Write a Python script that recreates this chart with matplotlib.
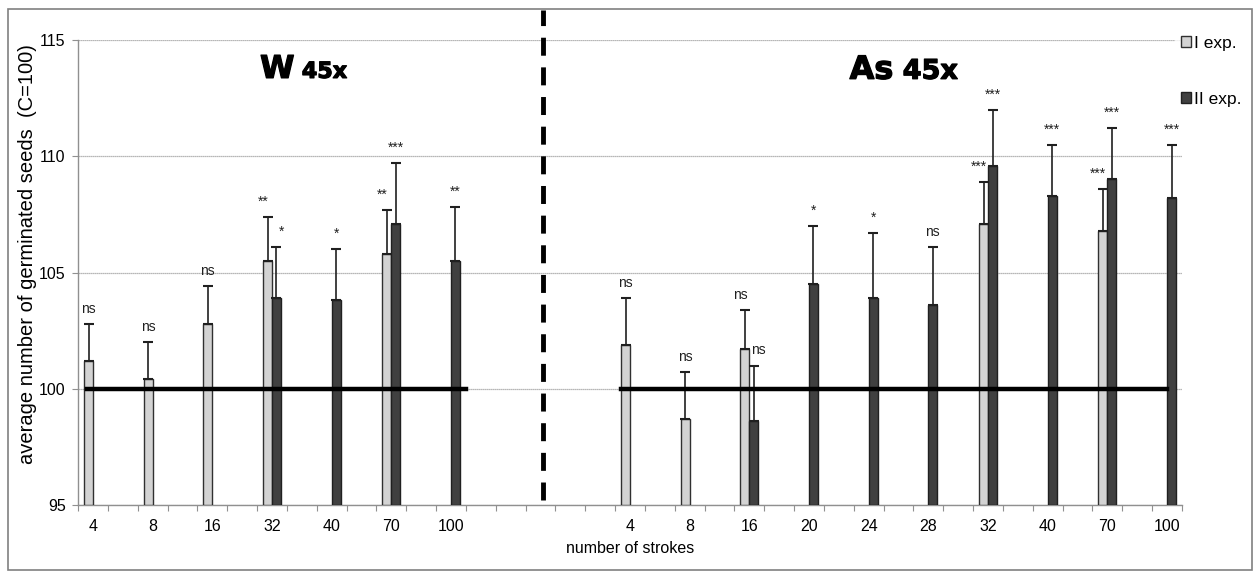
import numpy as np
import matplotlib
matplotlib.use("Agg")
import matplotlib.pyplot as plt
from matplotlib.patches import Rectangle
import matplotlib.patheffects as pe

plt.rcParams['font.family'] = ['Liberation Sans', 'DejaVu Sans']

categories = ['4', '8', '16', '32', '40', '70', '100', '', '',
              '4', '8', '16', '20', '24', '28', '32', '40', '70', '100']
nan = np.nan
exp1 = [101.2, 100.4, 102.8, 105.5, nan, 105.8, nan, nan, nan,
        101.9, 98.7, 101.7, nan, nan, nan, 107.1, nan, 106.8, nan]
exp1_err = [1.6, 1.6, 1.6, 1.9, nan, 1.9, nan, nan, nan,
            2.0, 2.0, 1.7, nan, nan, nan, 1.8, nan, 1.8, nan]
exp2 = [nan, nan, nan, 103.9, 103.8, 107.1, 105.5, nan, nan,
        nan, nan, 98.6, 104.5, 103.9, 103.6, 109.6, 108.3, 109.0, 108.2]
exp2_err = [nan, nan, nan, 2.2, 2.2, 2.6, 2.3, nan, nan,
            nan, nan, 2.4, 2.5, 2.8, 2.5, 2.4, 2.2, 2.2, 2.3]
sig1 = ['ns', 'ns', 'ns', '**', '', '**', '', '', '',
        'ns', 'ns', 'ns', '', '', '', '***', '', '***', '']
sig2 = ['', '', '', '*', '*', '***', '**', '', '',
        '', '', 'ns', '*', '*', 'ns', '***', '***', '***', '***']
panel_titles = [('W', '45x'), ('As', '45x')]
series_names = ['I exp.', 'II exp.']
control_value = 100

fig = plt.figure(figsize=(12.55, 5.72), dpi=100)
ax = fig.add_axes([0.0622, 0.1171, 0.8796, 0.8130])

x = np.arange(len(categories))
w = 0.15
light = '#d3d3d3'
dark = '#404040'

e1 = np.array(exp1, dtype=float)
e2 = np.array(exp2, dtype=float)
r1 = np.array(exp1_err, dtype=float)
r2 = np.array(exp2_err, dtype=float)

ax.bar(x - w / 2, e1 - 95, bottom=95, width=w, color=light, edgecolor='#303030',
       linewidth=1.0, label=series_names[0], zorder=3)
ax.bar(x + w / 2, e2 - 95, bottom=95, width=w, color=dark, edgecolor='#202020',
       linewidth=1.0, label=series_names[1], zorder=3)

m1 = ~np.isnan(e1)
m2 = ~np.isnan(e2)
ax.errorbar(x[m1] - w / 2, e1[m1], yerr=[np.zeros(m1.sum()), r1[m1]], fmt='none',
            ecolor='#202020', elinewidth=1.2, capsize=3.5, capthick=1.5, zorder=4)
ax.errorbar(x[m2] + w / 2, e2[m2], yerr=[np.zeros(m2.sum()), r2[m2]], fmt='none',
            ecolor='#202020', elinewidth=1.2, capsize=3.5, capthick=1.5, zorder=4)

for i in range(len(categories)):
    if sig1[i]:
        dx = -0.08 if not np.isnan(e2[i]) else 0
        ax.text(x[i] - w / 2 + dx, e1[i] + r1[i] + 0.35, sig1[i], ha='center',
                va='bottom', fontsize=10, color='#202020', zorder=5)
    if sig2[i]:
        dx = 0.08 if (not np.isnan(e1[i]) and sig2[i] != '***') else 0
        ax.text(x[i] + w / 2 + dx, e2[i] + r2[i] + 0.35, sig2[i], ha='center',
                va='bottom', fontsize=10, color='#202020', zorder=5)

# control lines
ax.plot([-0.1, 6.25], [control_value, control_value], color='black', lw=3.2, zorder=6)
ax.plot([8.85, 18.0], [control_value, control_value], color='black', lw=3.2, zorder=6)

# separator dashed line
ax.plot([7.55, 7.55], [95.2, 116.3], color='black', lw=3.5,
        linestyle=(0, (3.7, 2.4)), clip_on=False, zorder=6)

ax.set_xlim(-0.25, 18.25)
ax.set_ylim(95, 115)
ax.set_yticks([95, 100, 105, 110, 115])
ax.yaxis.grid(True, color='#a0a0a0', lw=0.9, linestyle=(0, (1, 0.6)))
ax.set_axisbelow(True)

ax.set_xticks(np.arange(-0.25, 18.3, 0.5))
ax.set_xticklabels([])
ax.set_xticks(x, minor=True)
ax.set_xticklabels(categories, minor=True)
ax.tick_params(axis='x', which='major', length=4, color='#909090', direction='out')
ax.tick_params(axis='x', which='minor', length=0, pad=10, labelsize=11.5)
ax.tick_params(axis='y', length=4, color='#909090', labelsize=11.5, pad=5)

for s in ['top', 'right']:
    ax.spines[s].set_visible(False)
for s in ['left', 'bottom']:
    ax.spines[s].set_color('#909090')
    ax.spines[s].set_linewidth(1.0)

ax.set_ylabel('average number of germinated seeds  (C=100)', fontsize=14.5)
ax.yaxis.set_label_coords(-0.037, 0.54)
ax.set_xlabel('number of strokes', fontsize=11.5, labelpad=5)

heavy = [pe.withStroke(linewidth=0.9, foreground='black')]
ax.text(2.80, 113.37, panel_titles[0][0], ha='left', va='baseline', fontsize=22.5,
        fontweight='bold', family='DejaVu Sans', path_effects=heavy)
ax.text(3.50, 113.37, panel_titles[0][1], ha='left', va='baseline', fontsize=16,
        fontweight='bold', family='DejaVu Sans', path_effects=heavy)
ax.text(12.68, 113.33, panel_titles[1][0], ha='left', va='baseline', fontsize=23,
        fontweight='bold', family='DejaVu Sans', path_effects=heavy)
ax.text(13.57, 113.33, panel_titles[1][1], ha='left', va='baseline', fontsize=19.5,
        fontweight='bold', family='DejaVu Sans', path_effects=heavy)

leg = fig.legend(loc='upper left', bbox_to_anchor=(0.9365, 0.946), frameon=True,
                 fontsize=12.5, handlelength=0.6, handleheight=0.6,
                 handletextpad=0.15, labelspacing=2.35, borderpad=0.3,
                 borderaxespad=0)
leg.get_frame().set_edgecolor('none')
leg.get_frame().set_facecolor('white')

fig.add_artist(Rectangle((8 / 1255, 2 / 572), 1244 / 1255, 561 / 572,
                         transform=fig.transFigure, fill=False,
                         edgecolor='#808080', lw=1.2))

fig.savefig('out.png', dpi=100)
